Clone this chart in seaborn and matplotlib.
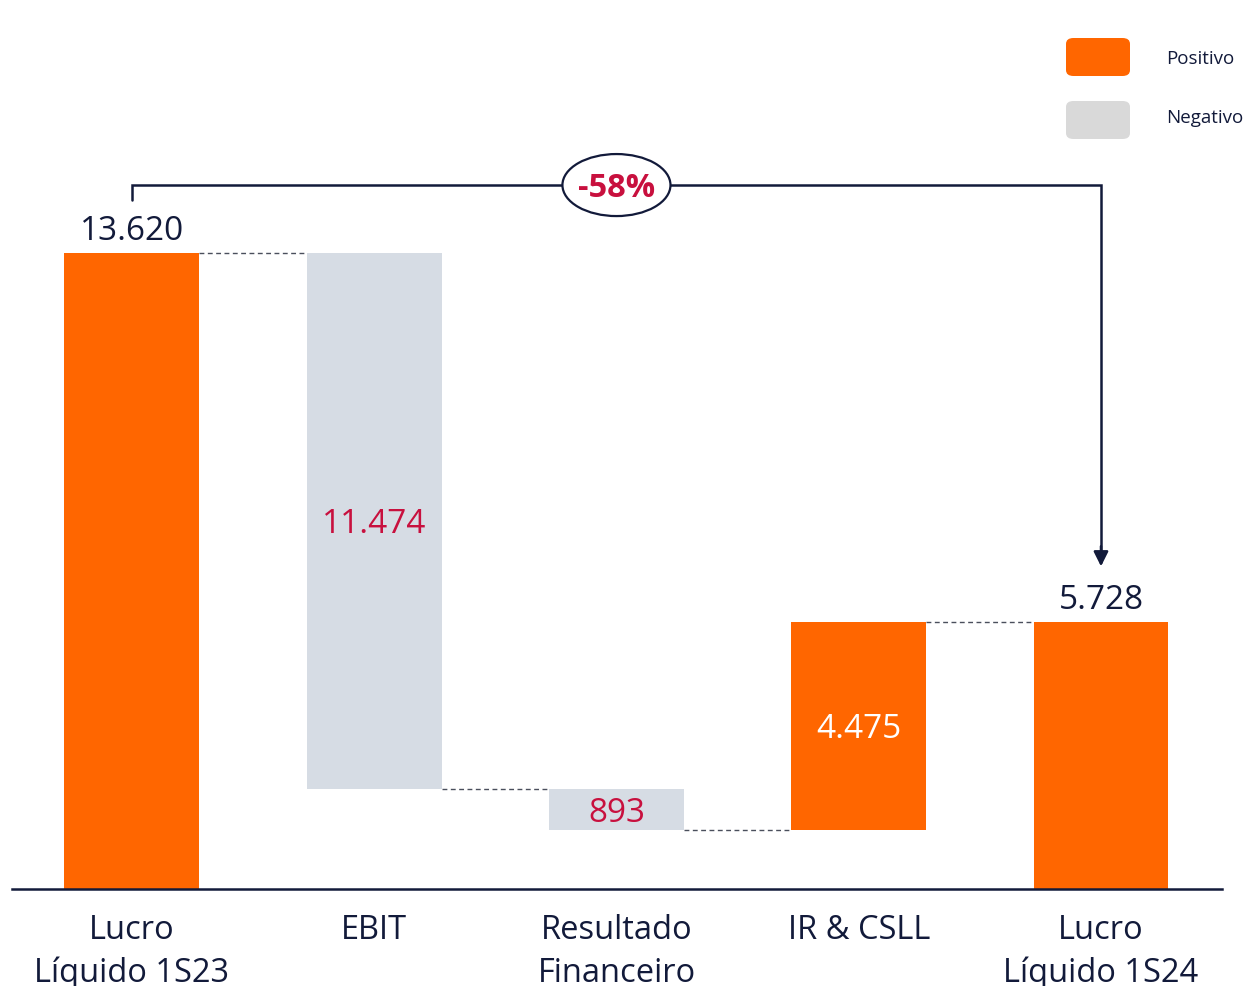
import matplotlib
matplotlib.use('Agg')
import matplotlib.pyplot as plt
from matplotlib.patches import Ellipse, FancyBboxPatch
import numpy as np
import pandas as pd
import seaborn as sns

# dados da ponte de lucro (R$ milhões)
etapas = ["Lucro\nLíquido 1S23", "EBIT", "Resultado\nFinanceiro", "IR & CSLL", "Lucro\nLíquido 1S24"]
valores = [13620, -11474, -893, 4475, 5728]
tipos = ["total", "delta", "delta", "delta", "total"]
rotulos = ["13.620", "11.474", "893", "4.475", "5.728"]
variacao = "-58%"

LARANJA = "#FF6600"
CINZA = "#D6DCE4"
CINZA_LEG = "#D9D9D9"
AZUL = "#121A3A"
VERMELHO = "#C8103E"

# calcula base e altura de cada barra
bases, alturas, topos = [], [], []
nivel = 0
for v, t in zip(valores, tipos):
    if t == "total":
        bases.append(0)
        alturas.append(v)
        nivel = v
    else:
        novo = nivel + v
        bases.append(min(nivel, novo))
        alturas.append(abs(v))
        nivel = novo
    topos.append(nivel)
cores = [LARANJA if (t == "total" or v > 0) else CINZA for v, t in zip(valores, tipos)]

df = pd.DataFrame({"etapa": etapas, "altura": alturas})

sns.set_style("white")
plt.rcParams['font.family'] = ['Open Sans', 'DejaVu Sans']

fig = plt.figure(figsize=(12.46, 9.86), dpi=100)
ax = fig.add_axes([12 / 1246, 97 / 986, 1210 / 1246, 889 / 986])

sns.barplot(data=df, x="etapa", y="altura", hue="etapa", palette=cores,
            width=0.557, saturation=1, legend=False, ax=ax, linewidth=0)
for patch, b in zip(ax.patches, bases):
    patch.set_y(b)

ax.set_xlim(-0.495, 4.4995)
ax.set_ylim(0, 19038)
for s in ["top", "right", "left"]:
    ax.spines[s].set_visible(False)
ax.spines["bottom"].set_color(AZUL)
ax.spines["bottom"].set_linewidth(1.8)
ax.set_xlabel("")
ax.set_ylabel("")
ax.set_yticks([])
ax.set_xticks(range(len(etapas)))
ax.set_xticklabels(etapas, fontsize=23.5, color=AZUL, linespacing=1.38)
ax.tick_params(axis="x", length=0, pad=18)

# conectores tracejados
w = 0.557
for i, y in enumerate(topos[:-1]):
    ax.plot([i + w / 2, i + 1 - w / 2], [y, y], color="#4A4F5C", lw=1,
            ls=(0, (3.5, 2.5)))

# rótulos das barras
for i, (r, t, v) in enumerate(zip(rotulos, tipos, valores)):
    if t == "total":
        ax.text(i, bases[i] + alturas[i] + 460, r, ha="center", va="center",
                fontsize=24, color=AZUL)
    else:
        cor = "white" if v > 0 else VERMELHO
        ax.text(i, bases[i] + alturas[i] / 2 - 85, r, ha="center", va="center",
                fontsize=24, color=cor)

# colchete com variação
y_br = 15075
ax.plot([0, 0, 4, 4], [14750, y_br, y_br, 7000], color=AZUL, lw=1.8,
        clip_on=False, solid_joinstyle="miter")
ax.annotate("", xy=(4, 6850), xytext=(4, 7400),
            arrowprops=dict(arrowstyle="-|>", color=AZUL, lw=1.8,
                            mutation_scale=22))
ax.add_patch(Ellipse((2, y_br), 0.446, 1328, facecolor="white",
                     edgecolor=AZUL, lw=1.6, zorder=5))
ax.text(2, y_br - 65, variacao, ha="center", va="center", fontsize=23.5,
        fontweight="bold", color=VERMELHO, zorder=6)

# legenda manual
for (y0, y_txt, cor, nome) in [(38, 59, LARANJA, "Positivo"), (101, 118, CINZA_LEG, "Negativo")]:
    fig.patches.append(FancyBboxPatch((1066 / 1246, 1 - (y0 + 38) / 986),
                                      64 / 1246, 38 / 986,
                                      boxstyle="round,pad=0,rounding_size=0.006",
                                      transform=fig.transFigure,
                                      facecolor=cor, edgecolor="none"))
    fig.text(1166 / 1246, 1 - y_txt / 986, nome, ha="left", va="center",
             fontsize=13.5, color=AZUL)

fig.savefig("out.png", dpi=100)
